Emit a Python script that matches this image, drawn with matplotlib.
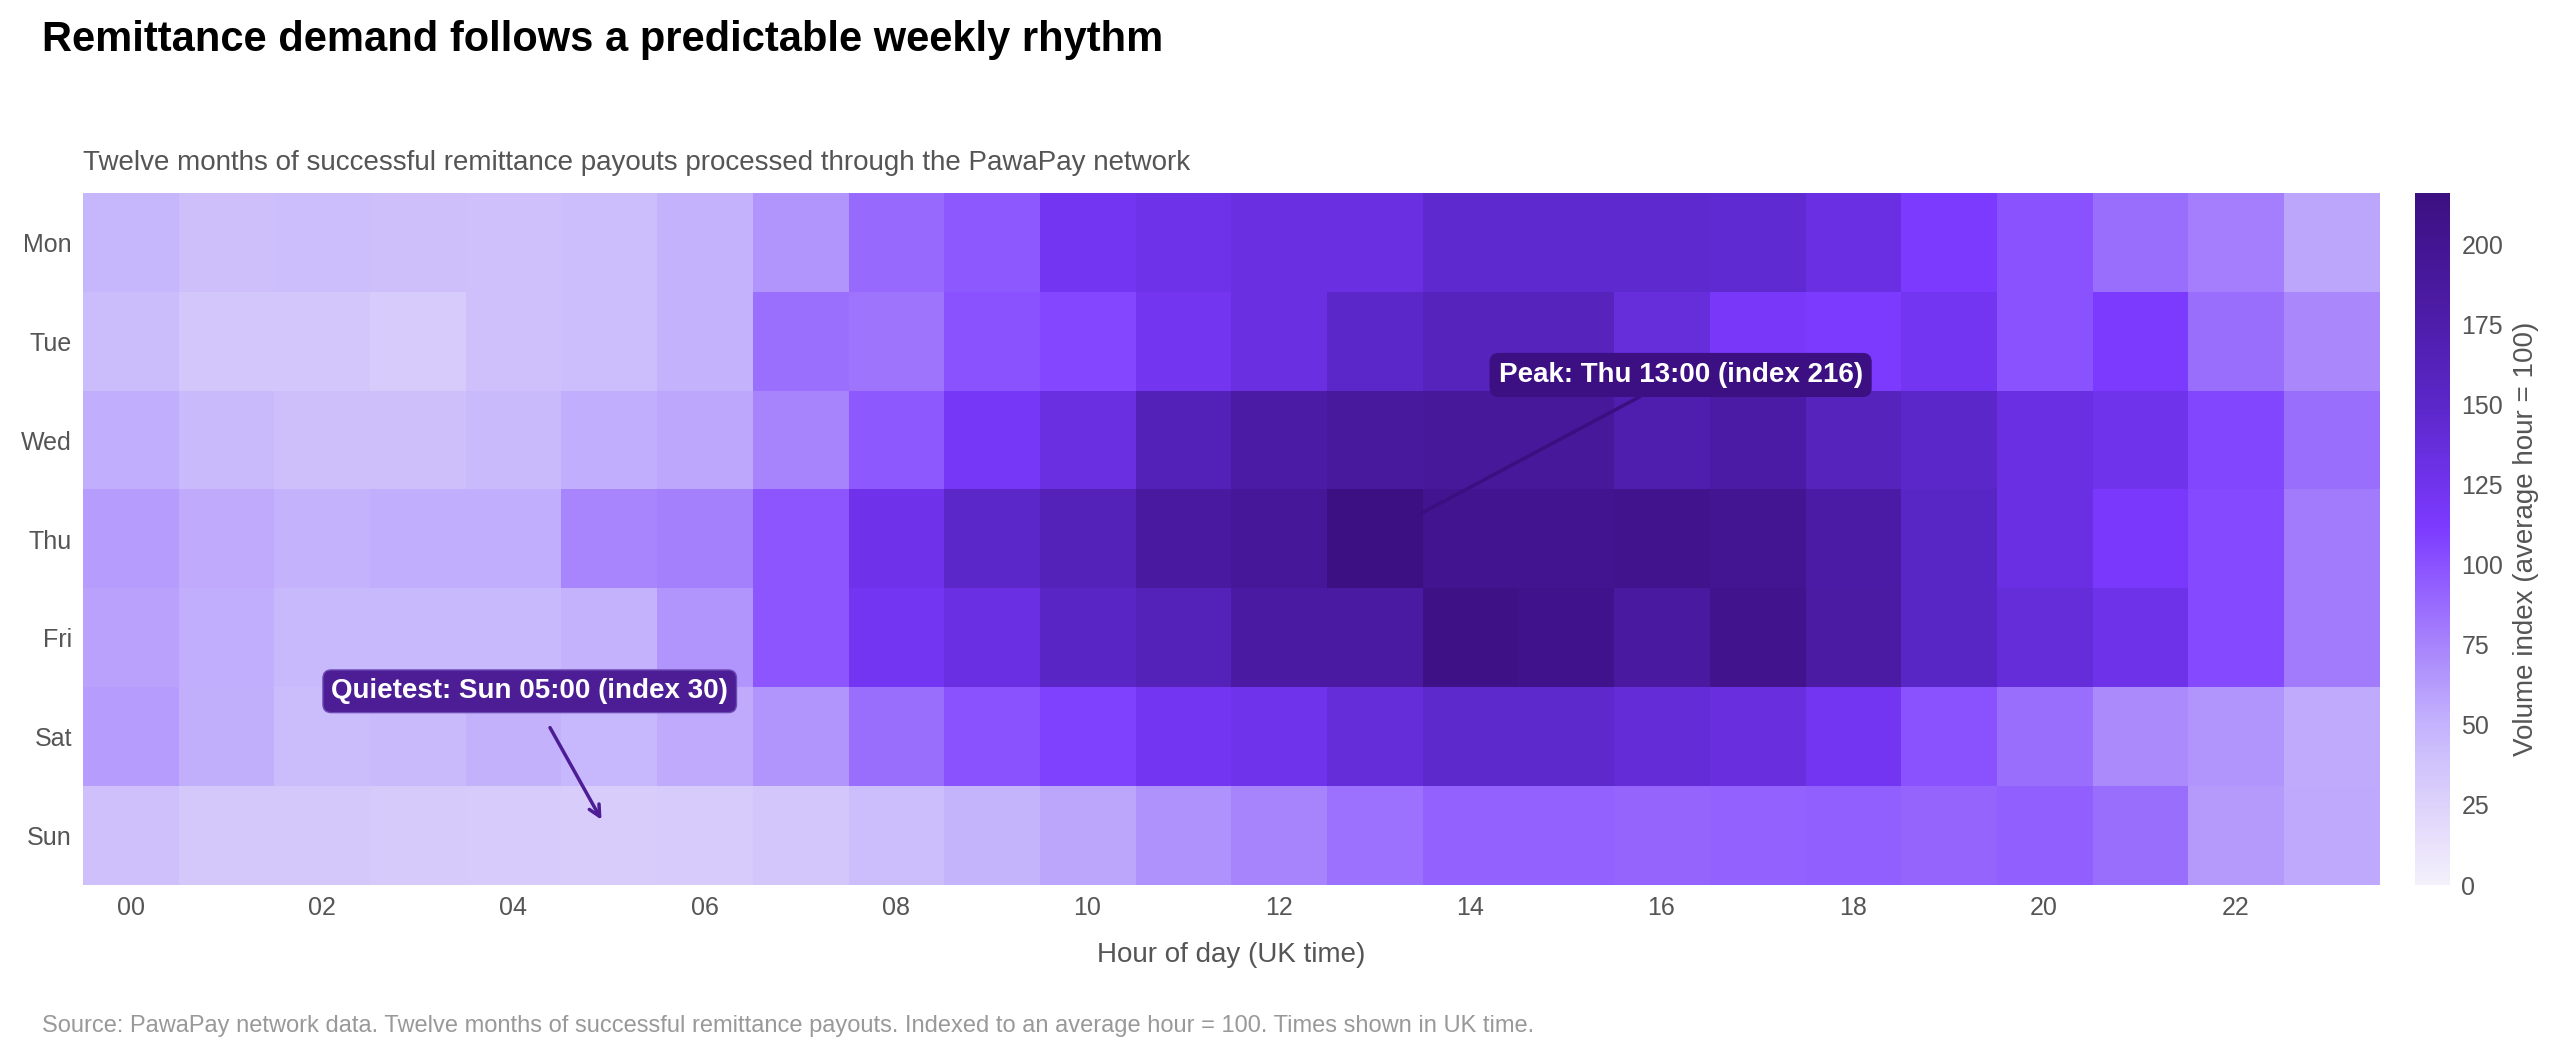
import numpy as np
import matplotlib
matplotlib.use("Agg")
import matplotlib.pyplot as plt
from matplotlib.colors import LinearSegmentedColormap

# index values (average hour = 100)
days = ["Mon", "Tue", "Wed", "Thu", "Fri", "Sat", "Sun"]
hour_labels = ["%02d" % h for h in range(24)]

mon = [48, 40, 42, 40, 39, 42, 50, 65, 88, 97, 120, 127, 133, 133, 145, 145, 145, 143, 132, 112, 100, 86, 77, 57]
tue = [43, 35, 35, 31, 39, 42, 50, 85, 82, 100, 105, 122, 133, 150, 160, 160, 137, 116, 112, 120, 100, 112, 86, 72]
wed = [53, 44, 40, 40, 44, 53, 56, 75, 97, 118, 133, 165, 180, 188, 190, 190, 172, 180, 160, 150, 132, 125, 106, 86]
thu = [62, 54, 50, 53, 53, 74, 76, 98, 126, 150, 163, 185, 192, 216, 200, 200, 203, 198, 180, 152, 132, 114, 104, 79]
fri = [59, 53, 46, 46, 46, 50, 66, 98, 120, 132, 153, 163, 183, 183, 210, 205, 185, 203, 182, 152, 138, 127, 104, 79]
sat = [62, 52, 43, 44, 51, 47, 54, 66, 86, 100, 108, 121, 125, 138, 147, 147, 140, 134, 120, 100, 86, 71, 66, 54]
sun = [39, 33, 33, 32, 31, 30, 31, 35, 42, 49, 57, 67, 75, 84, 92, 92, 91, 92, 93, 91, 93, 86, 63, 55]

peak_day, peak_hour, peak_val = "Thu", 13, 216
quiet_day, quiet_hour, quiet_val = "Sun", 5, 30

grid = np.array([mon, tue, wed, thu, fri, sat, sun])
vmax = grid.max()

plt.rcParams["font.family"] = ["Liberation Sans", "DejaVu Sans"]

nodes = [(0, "#f4f0fb"), (30, "#d8ccfb"), (50, "#c4b3fd"), (75, "#a783fc"),
         (100, "#8a52ff"), (112, "#7c3aff"), (150, "#5b27c9"), (185, "#4a1aa0"),
         (216, "#3c1082")]
cmap = LinearSegmentedColormap.from_list("pawa", [(v / 216, c) for v, c in nodes])

fig = plt.figure(figsize=(25.6, 10.56), dpi=100)
ax = fig.add_axes([0.0324, 0.1619, 0.8969, 0.6553])
cax = fig.add_axes([0.9434, 0.1619, 0.0137, 0.6553])

im = ax.imshow(grid, cmap=cmap, vmin=0, vmax=vmax, aspect="auto", interpolation="nearest")

ax.set_yticks(range(len(days)))
ax.set_yticklabels(days)
ax.set_xticks(range(0, 24, 2))
ax.set_xticklabels(hour_labels[::2])
ax.tick_params(length=0, labelsize=18, colors="#555555", pad=8)
for s in ax.spines.values():
    s.set_visible(False)

cb = fig.colorbar(im, cax=cax, ticks=range(0, 201, 25))
cb.outline.set_visible(False)
cb.ax.tick_params(length=0, labelsize=18, colors="#555555", pad=8)

fig.text(0.0164, 1 - 51 / 1056, "Remittance demand follows a predictable weekly rhythm",
         fontsize=30, fontweight="bold", color="black", va="baseline")
fig.text(0.0324, 1 - 170 / 1056,
         "Twelve months of successful remittance payouts processed through the PawaPay network",
         fontsize=20, color="#555555", va="baseline")
fig.text(1231 / 2560, 1 - 962 / 1056, "Hour of day (UK time)",
         fontsize=20, color="#555555", ha="center", va="baseline")
fig.text(2526 / 2560, 0.4896, "Volume index (average hour = 100)",
         fontsize=20, color="#555555", rotation=90, ha="center", va="center")
fig.text(0.0164, 1 - 1032 / 1056,
         "Source: PawaPay network data. Twelve months of successful remittance payouts. "
         "Indexed to an average hour = 100. Times shown in UK time.",
         fontsize=17, color="#999999", va="baseline")

# callouts
pi = days.index(peak_day)
ax.annotate("Peak: %s %02d:00 (index %d)" % (peak_day, peak_hour, peak_val),
            xy=(peak_hour + 0.47, pi - 0.25), xytext=(16.2, 1.34),
            ha="center", va="center", fontsize=20, fontweight="bold", color="white",
            bbox=dict(boxstyle="round,pad=0.3,rounding_size=0.3", fc="#3c1082", ec="#3c1082"),
            arrowprops=dict(arrowstyle="-", color="#3b0f80", lw=2.5, shrinkA=0, shrinkB=0))

qi = days.index(quiet_day)
ax.annotate("Quietest: %s %02d:00 (index %d)" % (quiet_day, quiet_hour, quiet_val),
            xy=(quiet_hour - 0.08, qi - 0.16), xytext=(4.17, 4.54),
            ha="center", va="center", fontsize=20, fontweight="bold", color="white",
            bbox=dict(boxstyle="round,pad=0.3,rounding_size=0.3", fc="#4c1d95", ec="#6d4bb5", lw=1),
            arrowprops=dict(arrowstyle="->", color="#4c1d95", lw=2.5, shrinkA=12, shrinkB=0,
                            mutation_scale=20))

fig.savefig("out.png", dpi=100)
